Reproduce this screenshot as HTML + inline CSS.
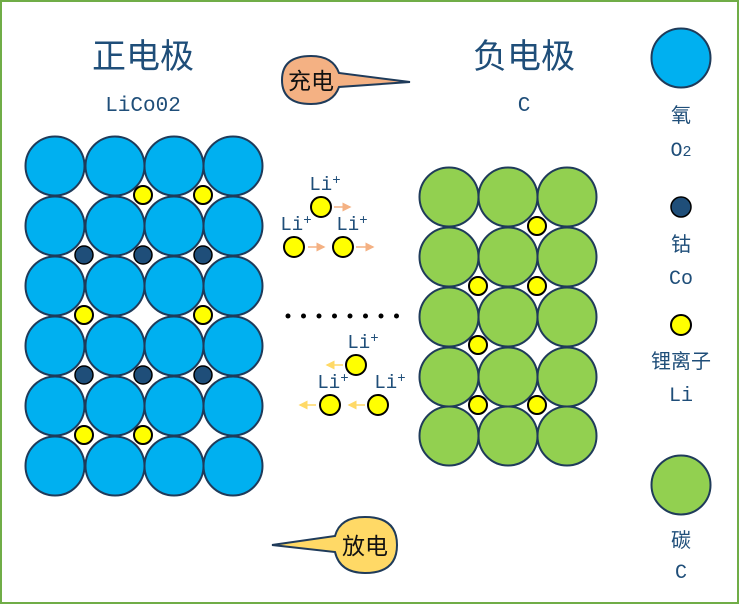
<!DOCTYPE html><html><head><style>body{margin:0}svg{display:block}</style></head><body>
<svg width="739" height="604" xmlns="http://www.w3.org/2000/svg" font-family="Liberation Sans, Noto Sans CJK SC, sans-serif">
<defs>
<marker id="ao" markerWidth="6" markerHeight="6" refX="5" refY="3" orient="auto"><path d="M0,0L6,3L0,6z" fill="#f4b183"/></marker>
<marker id="ay" markerWidth="6" markerHeight="6" refX="5" refY="3" orient="auto"><path d="M0,0L6,3L0,6z" fill="#ffd966"/></marker>
</defs>
<rect x="1" y="1" width="737" height="602" fill="#fff" stroke="#70ad47" stroke-width="2"/>
<g fill="#1f4e79" text-anchor="middle">
<text x="143" y="68" font-size="34" font-family="Noto Sans CJK SC, sans-serif">正电极</text>
<text x="143" y="111" font-size="21" font-family="Liberation Mono, monospace">LiCo02</text>
<text x="524" y="68" font-size="34" font-family="Noto Sans CJK SC, sans-serif">负电极</text>
<text x="524" y="111" font-size="21" font-family="Liberation Mono, monospace">C</text>
</g>
<g fill="#00b0f0" stroke="#1f3b5a" stroke-width="2">
<g id="row"><circle cx="55" cy="166" r="29.5"/><circle cx="115" cy="166" r="29.5"/><circle cx="174" cy="166" r="29.5"/><circle cx="233" cy="166" r="29.5"/></g>
<use href="#row" y="60"/><use href="#row" y="120"/><use href="#row" y="180"/><use href="#row" y="240"/><use href="#row" y="300"/>
</g>
<g fill="#92d050" stroke="#1f3b5a" stroke-width="2">
<g id="grow"><circle cx="449" cy="197" r="29.5"/><circle cx="508" cy="197" r="29.5"/><circle cx="567" cy="197" r="29.5"/></g>
<use href="#grow" y="60"/><use href="#grow" y="120"/><use href="#grow" y="180"/><use href="#grow" y="239"/>
</g>
<g stroke="#000" stroke-width="2" fill="#ffff00">
<circle cx="143" cy="195" r="9"/><circle cx="203" cy="195" r="9"/>
<circle cx="84" cy="315" r="9"/><circle cx="203" cy="315" r="9"/>
<circle cx="84" cy="435" r="9"/><circle cx="143" cy="435" r="9"/>
<circle cx="537" cy="226" r="9"/><circle cx="478" cy="286" r="9"/><circle cx="537" cy="286" r="9"/>
<circle cx="478" cy="345" r="9"/><circle cx="478" cy="405" r="9"/><circle cx="537" cy="405" r="9"/>
<circle cx="321" cy="207" r="10"/><circle cx="294" cy="247" r="10"/><circle cx="343" cy="247" r="10"/>
<circle cx="356" cy="365" r="10"/><circle cx="330" cy="405" r="10"/><circle cx="378" cy="405" r="10"/>
<circle cx="681" cy="325" r="10"/>
</g>
<g fill="#1f4e79" stroke="#000" stroke-width="1.5">
<circle cx="84" cy="255" r="9"/><circle cx="143" cy="255" r="9"/><circle cx="203" cy="255" r="9"/>
<circle cx="84" cy="375" r="9"/><circle cx="143" cy="375" r="9"/><circle cx="203" cy="375" r="9"/>
<circle cx="681" cy="207" r="10"/>
</g>
<circle cx="681" cy="58" r="29.5" fill="#00b0f0" stroke="#1f3b5a" stroke-width="2"/>
<circle cx="681" cy="485" r="29.5" fill="#92d050" stroke="#1f3b5a" stroke-width="2"/>
<g fill="#1f4e79" text-anchor="middle" font-size="20" font-family="Liberation Mono, Noto Sans CJK SC, monospace">
<text x="681" y="122">氧</text><text x="681" y="156">O<tspan font-size="15">2</tspan></text>
<text x="681" y="251">钴</text><text x="681" y="284">Co</text>
<text x="681" y="368">锂离子</text><text x="681" y="401">Li</text>
<text x="681" y="547">碳</text><text x="681" y="578">C</text>
</g>
<g fill="#1f4e79" font-size="19" font-family="Liberation Mono, monospace" text-anchor="middle">
<text x="325" y="190">Li<tspan font-size="14" dy="-6">+</tspan></text>
<text x="296" y="230">Li<tspan font-size="14" dy="-6">+</tspan></text>
<text x="352" y="230">Li<tspan font-size="14" dy="-6">+</tspan></text>
<text x="363" y="348">Li<tspan font-size="14" dy="-6">+</tspan></text>
<text x="333" y="388">Li<tspan font-size="14" dy="-6">+</tspan></text>
<text x="390" y="388">Li<tspan font-size="14" dy="-6">+</tspan></text>
</g>
<g stroke="#f4b183" stroke-width="1.5" marker-end="url(#ao)">
<line x1="334" y1="207" x2="350" y2="207"/><line x1="308" y1="247" x2="324" y2="247"/><line x1="356" y1="247" x2="373" y2="247"/>
</g>
<g stroke="#ffd966" stroke-width="1.5" marker-end="url(#ay)">
<line x1="343" y1="365" x2="327" y2="365"/><line x1="316" y1="405" x2="300" y2="405"/><line x1="365" y1="405" x2="349" y2="405"/>
</g>
<g fill="#000"><circle cx="288" cy="316" r="2.5"/><circle cx="303.5" cy="316" r="2.5"/><circle cx="319" cy="316" r="2.5"/><circle cx="334.5" cy="316" r="2.5"/><circle cx="350" cy="316" r="2.5"/><circle cx="365.5" cy="316" r="2.5"/><circle cx="381" cy="316" r="2.5"/><circle cx="396.5" cy="316" r="2.5"/></g>
<path d="M339,73 Q333,56 311,56 Q282,56 282,80 Q282,104 311,104 Q333,104 339,87 L410,82 Z" fill="#f4b183" stroke="#1f3b5a" stroke-width="2"/>
<text x="311" y="89" font-size="23" text-anchor="middle" fill="#111" font-family="Noto Sans CJK SC, sans-serif">充电</text>
<path d="M335,536 Q340,517 365,517 Q397,517 397,545 Q397,573 365,573 Q340,573 335,552 L272,545 Z" fill="#ffd966" stroke="#1f3b5a" stroke-width="2"/>
<text x="365" y="554" font-size="23" text-anchor="middle" fill="#111" font-family="Noto Sans CJK SC, sans-serif">放电</text>
</svg>
</body></html>
